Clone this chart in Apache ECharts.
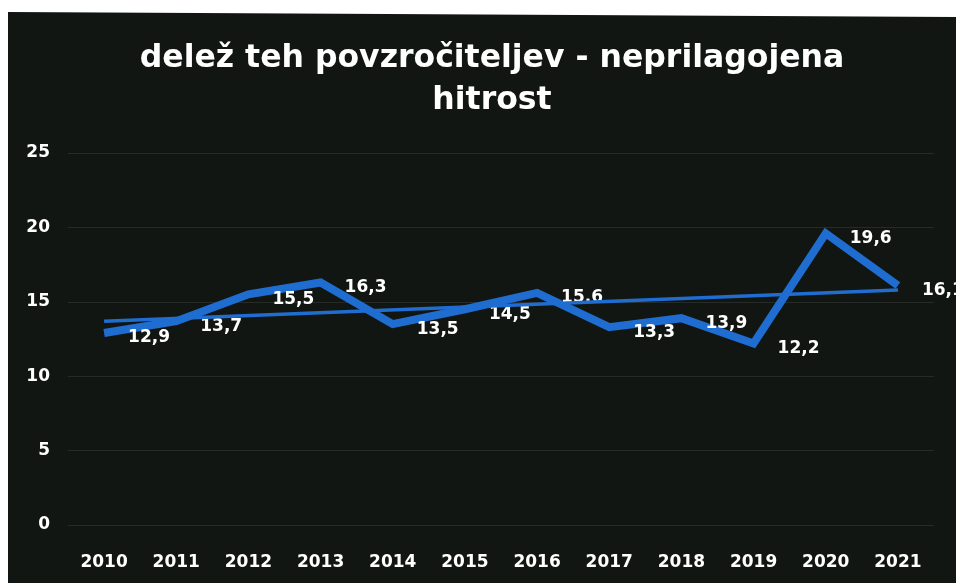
<!DOCTYPE html>
<html>
<head>
<meta charset="utf-8">
<script src="https://cdn.jsdelivr.net/npm/echarts@6/dist/echarts.min.js"></script>
<style>html,body{margin:0;padding:0;background:#fff}#c{width:956px;height:583px}</style>
</head>
<body>
<div id="c"></div>
<script>
const titleText = 'delež teh povzročiteljev - neprilagojena\nhitrost';
const categories = ['2010','2011','2012','2013','2014','2015','2016','2017','2018','2019','2020','2021'];
const values = [12.9, 13.7, 15.5, 16.3, 13.5, 14.5, 15.6, 13.3, 13.9, 12.2, 19.6, 16.1];
const valueLabels = ['12,9','13,7','15,5','16,3','13,5','14,5','15.6','13,3','13,9','12,2','19,6','16,1'];
const trendValues = [13.7, null, null, null, null, null, null, null, null, null, null, 15.8];
const yTicks = [0, 5, 10, 15, 20, 25];

const chart = echarts.init(document.getElementById('c'), null, {renderer: 'canvas'});
const font = '"DejaVu Sans", sans-serif';
chart.setOption({
  backgroundColor: '#ffffff',
  animation: false,
  graphic: [{
    type: 'polygon',
    z: -10,
    silent: true,
    shape: {points: [[8, 12], [956, 17], [956, 583], [8, 583]]},
    style: {fill: '#111613'}
  }],
  title: {
    text: titleText,
    left: 487,
    top: 33,
    textAlign: 'center',
    textStyle: {color: '#ffffff', fontFamily: font, fontWeight: 'bold', fontSize: 31.5, lineHeight: 42}
  },
  grid: {left: 68, right: 22, top: 153, bottom: 58, containLabel: false},
  xAxis: {
    type: 'category',
    data: categories,
    boundaryGap: true,
    axisLine: {show: false},
    axisTick: {show: false},
    axisLabel: {color: '#ffffff', fontFamily: font, fontWeight: 'bold', fontSize: 17, margin: 29}
  },
  yAxis: {
    type: 'value',
    min: 0, max: 25, interval: 5,
    axisLine: {show: false},
    axisTick: {show: false},
    splitLine: {lineStyle: {color: '#262b28', width: 1}},
    axisLabel: {
      color: '#ffffff', fontFamily: font, fontWeight: 'bold', fontSize: 17, margin: 18,
      formatter: v => yTicks.includes(v) ? String(v) : ''
    }
  },
  series: [{
    name: 'delež',
    type: 'line',
    z: 2,
    data: values,
    symbol: 'circle',
    symbolSize: 0.01,
    showSymbol: true,
    itemStyle: {color: '#1f6dd0'},
    lineStyle: {color: '#1f6dd0', width: 8, join: 'miter'},
    label: {
      show: true,
      position: 'right',
      distance: 24,
      offset: [0, 5],
      color: '#ffffff',
      fontFamily: font,
      fontWeight: 'bold',
      fontSize: 17,
      formatter: p => valueLabels[p.dataIndex]
    }
  }, {
    name: 'trend',
    type: 'line',
    z: 3,
    data: trendValues,
    connectNulls: true,
    symbol: 'none',
    lineStyle: {color: '#1f6dd0', width: 3.5}
  }]
});
</script>
</body>
</html>
